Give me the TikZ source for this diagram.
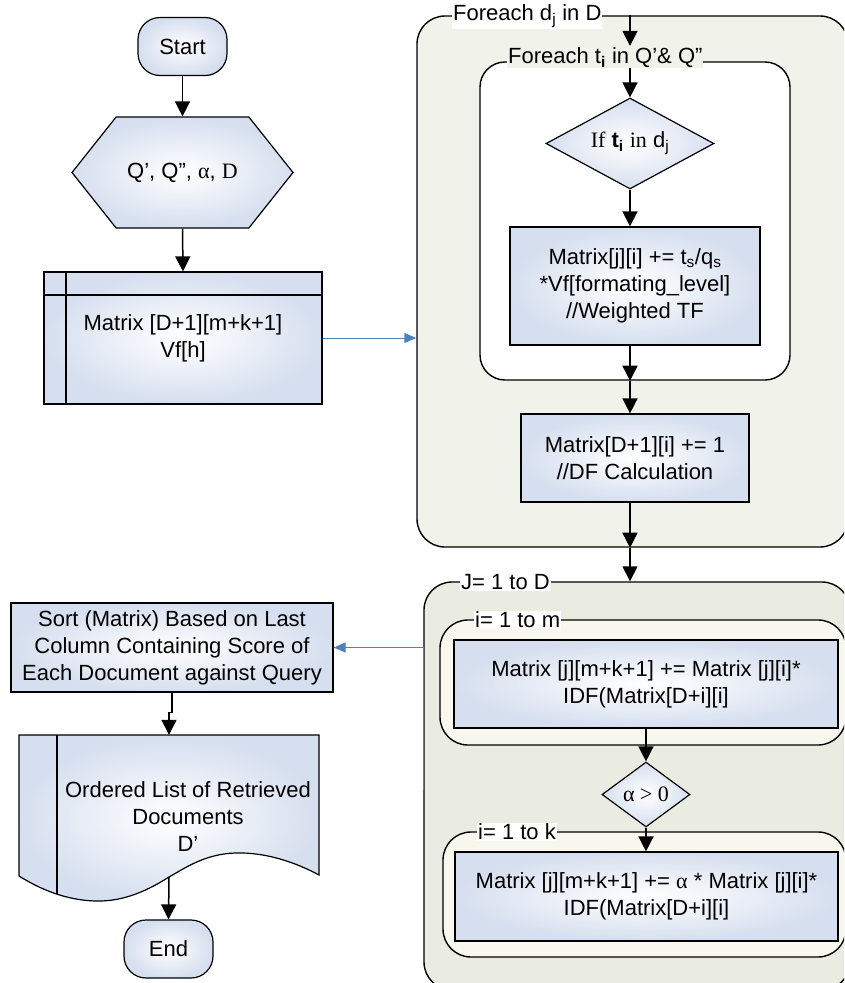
\documentclass[tikz,border=0pt]{standalone}
\usepackage{fontspec}
\setmainfont{Liberation Sans}
\newfontfamily\serif{Liberation Serif}
\usetikzlibrary{arrows.meta,positioning,calc,shapes.geometric,shapes.symbols}
\definecolor{nodeblue}{RGB}{214,223,239}
\definecolor{dfill}{RGB}{241,243,234}
\definecolor{jfill}{RGB}{235,236,225}
\definecolor{ifill}{RGB}{248,248,238}
\definecolor{linkblue}{RGB}{79,129,189}
\tikzset{
  base/.style={draw=black,line width=1.2pt,inner color=white,outer color=nodeblue,align=center},
  term/.style={base,rectangle,rounded corners=22pt,minimum width=89pt,minimum height=58pt},
  proc/.style={base,rectangle,inner sep=2pt},
  store/.style={proc,path picture={
      \draw[line width=1.2pt] ([xshift=22pt]path picture bounding box.north west) -- ([xshift=22pt]path picture bounding box.south west);
      \draw[line width=1.2pt] ([yshift=-23pt]path picture bounding box.north west) -- ([yshift=-23pt]path picture bounding box.north east);}},
  hexa/.style={base,signal,signal to=west and east,signal pointer angle=103},
  cond/.style={base,diamond,aspect=1.85,inner sep=0pt},
  loopbox/.style={draw=black,line width=1.4pt,rounded corners=28pt},
  looplabel/.style={fill=white,inner sep=1pt,anchor=west},
  arr/.style={-{Triangle[width=15pt,length=15pt]},line width=1.5pt},
  link/.style={-{Triangle[width=10pt,length=12pt]},draw=linkblue,line width=0.9pt}
}
\begin{document}
\begin{tikzpicture}[x=1pt,y=-1pt,every node/.style={font=\fontsize{22}{27}\selectfont}]
    \clip (0,0) rectangle (844,983);
    % left column
    \node[term] (start) at (182.5,46.5) {Start};
    \node[hexa,minimum width=221pt,minimum height=111pt] (inp) at (182.5,172.5) {Q’, Q”, {\serif α}, {\serif D}};
    \node[store,minimum width=278pt,minimum height=132pt] (mat) at (183,338) {Matrix [D+1][m+k+1]\\Vf[h]};
    \node[proc,minimum width=322pt,minimum height=89pt] (sort) at (172,647.5)
        {Sort (Matrix) Based on Last\\Column Containing Score of\\Each Document against Query};
    \node[minimum width=300pt,minimum height=142pt] (docu) at (169,806) {};
    \shade[draw=black,line width=1.2pt,inner color=white,outer color=nodeblue]
        (19,735) -- (319,735) -- (319,875) .. controls (295,862) and (265,852) .. (235,853)
        .. controls (205,854) and (185,868) .. (169,877) .. controls (150,889) and (125,902) .. (95,901)
        .. controls (65,900) and (40,889) .. (19,876) -- cycle;
    \draw[line width=1.2pt] (57,735) -- (57,894);
    \node[align=center] (doctext) at (188,817) {Ordered List of Retrieved\\Documents\\D’};
    \node[term] (end) at (168.5,949) {End};
    % foreach d_j
    \node[loopbox,fill=dfill,minimum width=431pt,minimum height=531pt] (dloop) at (632.5,281.5) {};
    \node[looplabel] (dlab) at (452,16) {Foreach d\textsubscript{j} in D};
    \node[loopbox,fill=white,minimum width=310pt,minimum height=318pt,rounded corners=25pt] (tloop) at (635,221) {};
    \node[looplabel,fill=dfill,anchor=base west] (tlab) at (507,63) {Foreach t\textsubscript{\textbf{i}} in Q’\& Q”};
    \node[cond,minimum width=168pt,minimum height=91pt] (test) at (630,143.5)
        {{\serif If} \textbf{t\textsubscript{i}} {\serif in} d\textsubscript{j}};
    \node[proc,minimum width=250pt,minimum height=118pt] (wtf) at (635,286)
        {Matrix[j][i] += t\textsubscript{s}/q\textsubscript{s}\\{}*Vf[formating\_level]\\//Weighted TF};
    \node[proc,minimum width=228pt,minimum height=88pt] (df) at (635,458) {Matrix[D+1][i] += 1\\//DF Calculation};
    % J = 1 to D
    \node[loopbox,fill=jfill,minimum width=426pt,minimum height=408pt] (jloop) at (637,786) {};
    \node[looplabel] (jlab) at (460,582) {J= 1 to D};
    \node[loopbox,fill=ifill,minimum width=406pt,minimum height=125pt] (mloop) at (643,682.5) {};
    \node[looplabel] (mlab) at (474,620) {i= 1 to m};
    \node[proc,minimum width=384pt,minimum height=88pt] (score) at (646,684)
        {Matrix [j][m+k+1] += Matrix [j][i]*\\IDF(Matrix[D+i][i]};
    \node[cond,aspect=1.37,minimum width=88pt,minimum height=65pt] (alpha) at (646,794.5) {\serif α > 0};
    \node[loopbox,fill=ifill,minimum width=403pt,minimum height=125pt] (kloop) at (644.5,894.5) {};
    \node[looplabel] (klab) at (477,832) {i= 1 to k};
    \node[proc,minimum width=383pt,minimum height=89pt] (kscore) at (646.5,896.5)
        {Matrix [j][m+k+1] += {\serif α} * Matrix [j][i]*\\IDF(Matrix[D+i][i]};
    \coordinate (jtap) at (jloop.west |- 0,790);
    % connectors
    \draw[arr] (start.south) -- (inp.north);
    \draw[arr] (inp.south) -- (mat.north);
    \draw[link] (mat.east) -- (mat.east -| dloop.west);
    \draw[arr] (dloop.north -| test) -- (test |- tlab.north);
    \draw[arr] (test |- tlab.south) -- (test.north);
    \draw[arr] (test.south) -- (test |- wtf.north);
    \draw[arr] (test |- wtf.south) -- (test |- tloop.south);
    \draw[arr] (test |- tloop.south) -- (test |- df.north);
    \draw[arr] (test |- df.south) -- (test |- dloop.south);
    \draw[arr] (test |- dloop.south) -- (test |- jloop.north);
    \draw[arr] (alpha |- score.south) -- (alpha.north);
    \draw[arr] (alpha.south) -- (alpha |- kscore.north);
    \draw[link] (jtap) |- (sort.east);
    \draw[arr] (sort.south) -- ++(0,20) -| (docu.north);
    \draw[arr] (docu.south) -- (end.north);
\end{tikzpicture}
\end{document}
